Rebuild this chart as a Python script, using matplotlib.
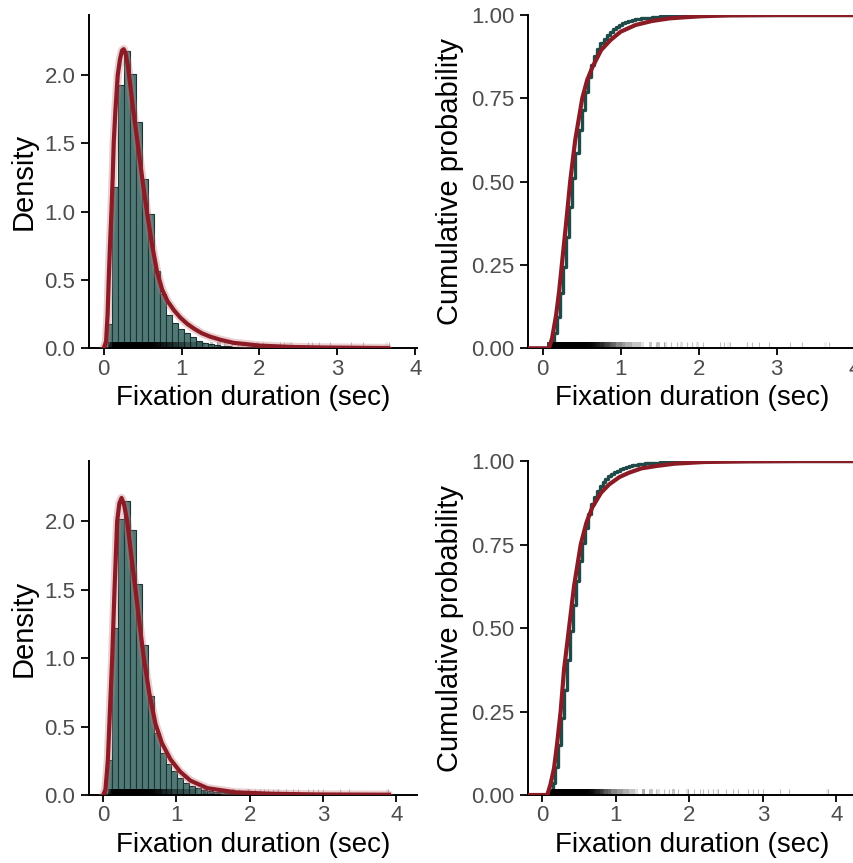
import numpy as np
import matplotlib.pyplot as plt

plt.rcParams['font.family'] = ['Liberation Sans', 'DejaVu Sans']

# ---- data ----
# histograms (density), constant bin width
top_hist_start = 0.034
top_hist_width = 0.0765
top_hist = [0.18, 1.18, 1.93, 2.18, 2.01, 1.66, 1.24, 0.98, 0.565, 0.395, 0.245,
            0.185, 0.145, 0.115, 0.08, 0.056, 0.04, 0.03, 0.025, 0.02, 0.015,
            0.012, 0.01, 0.008, 0.006, 0.005, 0.004, 0.003, 0.003, 0.002, 0.002]

bot_hist_start = 0.04
bot_hist_width = 0.081
bot_hist = [0.255, 1.217, 2.02, 2.15, 1.935, 1.54, 1.095, 0.725, 0.45, 0.305, 0.228,
            0.174, 0.124, 0.09, 0.066, 0.049, 0.037, 0.03, 0.024, 0.019, 0.015,
            0.012, 0.01, 0.008, 0.006, 0.005, 0.004, 0.003, 0.002, 0.002]

# fitted density curves
top_dens_x = [0.0, 0.03, 0.05, 0.064, 0.08, 0.099, 0.115, 0.128, 0.15, 0.18, 0.21,
              0.235, 0.256, 0.28, 0.31, 0.34, 0.38, 0.436, 0.5, 0.56, 0.62, 0.685,
              0.75, 0.82, 0.9, 0.983, 1.07, 1.154, 1.26, 1.368, 1.5, 1.667, 2.0,
              2.4, 2.8, 3.2, 3.65]
top_dens_y = [0.0, 0.05, 0.25, 0.5, 0.75, 1.0, 1.25, 1.5, 1.74, 2.0, 2.12,
              2.18, 2.19, 2.16, 2.07, 1.93, 1.74, 1.5, 1.22, 0.98, 0.76, 0.56,
              0.43, 0.345, 0.28, 0.225, 0.18, 0.146, 0.11, 0.085, 0.062, 0.04, 0.02,
              0.01, 0.006, 0.004, 0.002]

bot_dens_x = [0.0, 0.03, 0.063, 0.09, 0.122, 0.154, 0.19, 0.22, 0.25, 0.285, 0.327,
              0.38, 0.44, 0.5, 0.554, 0.63, 0.713, 0.8, 0.918, 1.05, 1.19, 1.42,
              1.8, 2.3, 2.9, 3.4, 3.9]
bot_dens_y = [0.0, 0.04, 0.25, 0.6, 1.0, 1.5, 2.0, 2.13, 2.17, 2.12, 2.0,
              1.76, 1.5, 1.23, 1.0, 0.74, 0.52, 0.38, 0.26, 0.17, 0.105, 0.05,
              0.02, 0.009, 0.004, 0.003, 0.002]

# fitted cumulative curves
top_cdf_x = [-0.2, 0.08, 0.12, 0.172, 0.21, 0.245, 0.3, 0.352, 0.417, 0.507, 0.57,
             0.64, 0.75, 0.87, 1.0, 1.19, 1.4, 1.63, 2.0, 2.4, 3.0, 4.2]
top_cdf_p = [0.0, 0.0, 0.03, 0.1, 0.17, 0.25, 0.375, 0.5, 0.625, 0.75, 0.805,
             0.845, 0.895, 0.925, 0.95, 0.97, 0.982, 0.99, 0.996, 0.999, 1.0, 1.0]

bot_cdf_x = [-0.2, 0.068, 0.11, 0.16, 0.2, 0.25, 0.296, 0.364, 0.432, 0.523, 0.6,
             0.68, 0.8, 0.91, 1.05, 1.18, 1.35, 1.55, 1.8, 2.2, 2.8, 3.5, 4.4]
bot_cdf_p = [0.0, 0.0, 0.03, 0.08, 0.15, 0.25, 0.375, 0.5, 0.625, 0.75, 0.815,
             0.861, 0.905, 0.93, 0.952, 0.965, 0.978, 0.985, 0.992, 0.997, 0.999, 1.0, 1.0]

# empirical cdf (steps)
top_ecdf_x = [0.06, 0.10, 0.14, 0.18, 0.22, 0.26, 0.30, 0.34, 0.38, 0.42, 0.46, 0.50,
              0.54, 0.58, 0.62, 0.66, 0.70, 0.74, 0.78, 0.82, 0.86, 0.90, 0.94,
              0.98, 1.02, 1.06, 1.10, 1.14, 1.18, 1.22, 1.26, 1.30, 1.40, 1.50,
              1.60, 1.80, 2.00, 2.40, 3.65]
top_ecdf_p = [0.0, 0.01, 0.045, 0.095, 0.165, 0.245, 0.335, 0.425, 0.51, 0.585, 0.655,
              0.715, 0.77, 0.815, 0.85, 0.877, 0.898, 0.915, 0.929, 0.94, 0.95,
              0.958, 0.965, 0.97, 0.975, 0.979, 0.982, 0.985, 0.987, 0.989, 0.991,
              0.992, 0.994, 0.996, 0.997, 0.998, 0.999, 0.9995, 1.0]

bot_ecdf_x = [0.06, 0.10, 0.14, 0.18, 0.22, 0.26, 0.30, 0.34, 0.38, 0.42, 0.46, 0.50,
              0.54, 0.58, 0.62, 0.66, 0.70, 0.74, 0.78, 0.82, 0.86, 0.90, 0.94,
              0.98, 1.02, 1.06, 1.10, 1.14, 1.18, 1.22, 1.26, 1.30, 1.40, 1.50,
              1.60, 1.80, 2.00, 2.40, 3.90]
bot_ecdf_p = [0.0, 0.01, 0.035, 0.085, 0.15, 0.23, 0.315, 0.405, 0.49, 0.57, 0.64,
              0.70, 0.755, 0.80, 0.84, 0.87, 0.893, 0.91, 0.925, 0.937, 0.946,
              0.954, 0.961, 0.966, 0.971, 0.975, 0.979, 0.982, 0.985, 0.987, 0.989,
              0.99, 0.993, 0.995, 0.996, 0.998, 0.999, 0.9995, 1.0]

# isolated long fixations visible in the rug
top_tail = [1.45, 1.55, 1.65, 1.72, 1.85, 1.92, 2.05, 2.27, 2.32, 2.4, 2.62, 2.68,
            2.77, 2.9, 3.17, 3.33, 3.67]
bot_tail = [1.45, 1.55, 1.65, 1.72, 1.85, 1.98, 2.07, 2.14, 2.19, 2.25, 2.32, 2.39,
            2.5, 2.59, 2.66, 2.8, 2.86, 2.93, 3.0, 3.23, 3.35, 3.89]

n_obs = 2500

BAR = '#507976'
BAR_EDGE = '#1b3433'
TEAL = '#1e4a48'
RED = '#8b1c26'
RED_LIGHT = '#c7767d'


def rug(ax, ex, ep, tail):
    # darkness of the rug follows how many fixations fall in each ecdf step
    jumps = np.diff(np.concatenate([[0.0], ep]))
    alpha = np.clip(1 - (1 - 0.05) ** (jumps * n_obs), 0, 1)
    for x0, j, a in zip(ex, jumps, alpha):
        if j > 0:
            ax.axvspan(x0 - 0.04, x0, ymin=0, ymax=0.018, color='black', alpha=a,
                       linewidth=0, zorder=3)
    ax.vlines(tail, 0, 0.018, colors='black', alpha=0.25, linewidth=0.8,
              transform=ax.get_xaxis_transform(), zorder=3)


def style(ax, xlim, ylim, yticks, yfmt, ylabel):
    ax.set_xlim(*xlim)
    ax.set_ylim(*ylim)
    ax.set_xticks([0, 1, 2, 3, 4])
    ax.set_yticks(yticks)
    ax.set_yticklabels([yfmt.format(v) for v in yticks])
    for s in ['top', 'right']:
        ax.spines[s].set_visible(False)
    for s in ['left', 'bottom']:
        ax.spines[s].set_linewidth(1.4)
    ax.tick_params(axis='x', length=5, width=1.3, pad=2.5, labelsize=16, labelcolor='#4d4d4d')
    ax.tick_params(axis='y', length=6, width=1.3, pad=4, labelsize=16, labelcolor='#4d4d4d')
    ax.set_xlabel('Fixation duration (sec)', fontsize=20, labelpad=4)
    ax.set_ylabel(ylabel, fontsize=21, labelpad=5)


def density_panel(ax, start, width, heights, dx, dy, ex, ep, tail, xlim):
    edges = start + width * np.arange(len(heights))
    ax.bar(edges, heights, width=width, align='edge', color=BAR,
           edgecolor=BAR_EDGE, linewidth=0.8, zorder=2)
    rug(ax, ex, ep, tail)
    ax.plot(dx, dy, color=RED_LIGHT, lw=6, alpha=0.35, zorder=4, solid_capstyle='round')
    ax.plot(dx, dy, color=RED, lw=3, zorder=5)
    style(ax, xlim, (0, 2.44), [0, 0.5, 1.0, 1.5, 2.0], '{:.1f}', 'Density')


def cdf_panel(ax, ex, ep, cx, cp, tail, xlim):
    xs = [xlim[0]] + list(ex) + [xlim[1] + 0.2]
    ps = [0.0] + list(ep) + [1.0]
    ax.plot(xs, ps, drawstyle='steps-post', color=TEAL, lw=2.4, zorder=3)
    rug(ax, ex, ep, tail)
    ax.plot(cx, cp, color=RED, lw=3, zorder=5)
    style(ax, xlim, (0, 1), [0, 0.25, 0.5, 0.75, 1.0], '{:.2f}', 'Cumulative probability')


fig = plt.figure(figsize=(8.54, 8.63), dpi=100)

ax1 = fig.add_axes([0.1046, 0.5964, 0.3834, 0.3862])
ax2 = fig.add_axes([0.6186, 0.5964, 0.3840, 0.3862])
ax3 = fig.add_axes([0.1046, 0.0788, 0.3834, 0.3870])
ax4 = fig.add_axes([0.6186, 0.0788, 0.3849, 0.3870])

top_xlim = (-0.185, 4.02)
bot_xlim = (-0.19, 4.28)

density_panel(ax1, top_hist_start, top_hist_width, top_hist, top_dens_x, top_dens_y,
              top_ecdf_x, top_ecdf_p, top_tail, top_xlim)
cdf_panel(ax2, top_ecdf_x, top_ecdf_p, top_cdf_x, top_cdf_p, top_tail, top_xlim)
density_panel(ax3, bot_hist_start, bot_hist_width, bot_hist, bot_dens_x, bot_dens_y,
              bot_ecdf_x, bot_ecdf_p, bot_tail, bot_xlim)
cdf_panel(ax4, bot_ecdf_x, bot_ecdf_p, bot_cdf_x, bot_cdf_p, bot_tail, bot_xlim)

fig.savefig('out.png', dpi=100)
